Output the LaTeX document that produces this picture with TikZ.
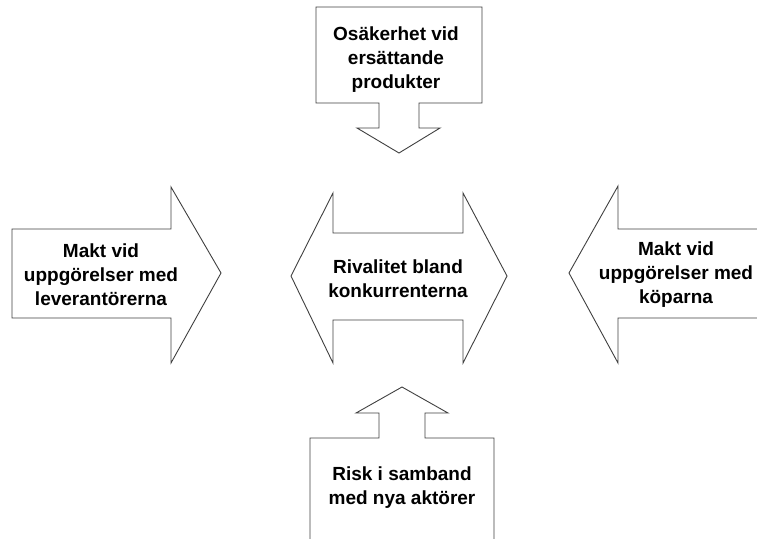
\documentclass[tikz,border=0pt]{standalone}
\usepackage{fontspec}
\setmainfont{Liberation Sans}
\begin{document}
\begin{tikzpicture}[x=1pt,y=-1pt,
  shapeline/.style={draw=black!75,line width=0.9pt,fill=white,line join=miter},
  lbl/.style={align=center,font=\fontsize{19}{24}\selectfont\bfseries,text=black,inner sep=0pt}]
\useasboundingbox (0,0) rectangle (757,538);
% top: box with down arrow
\draw[shapeline] (316,7) -- (482,7) -- (482,103) -- (419,103) -- (419,128) -- (440,128)
  -- (399,153) -- (357,128) -- (379,128) -- (379,103) -- (316,103) -- cycle;
% left: right arrow
\draw[shapeline] (12,229) -- (171,229) -- (171,187) -- (221,273) -- (171,363) -- (171,318) -- (12,318) -- cycle;
% center: double arrow
\draw[shapeline] (291,276) -- (333,193) -- (333,233) -- (463,233) -- (463,193) -- (507,276)
  -- (463,363) -- (463,320) -- (333,320) -- (333,363) -- cycle;
% right: left arrow
\draw[shapeline] (760,229) -- (618,229) -- (618,186) -- (569,273) -- (618,363) -- (618,318) -- (760,318);
% bottom: box with up arrow
\draw[shapeline] (310,542) -- (310,438) -- (379,438) -- (379,413) -- (356,413) -- (402,387)
  -- (448,413) -- (425,413) -- (425,438) -- (494,438) -- (494,542);
% labels
\node[lbl] (top) at (396,60) {Osäkerhet vid\\ersättande\\produkter};
\node[lbl] (left) at (101,275) {Makt vid\\uppgörelser med\\leverantörerna};
\node[lbl] (center) at (398,279) {Rivalitet bland\\konkurrenterna};
\node[lbl] (right) at (676,275) {Makt vid\\uppgörelser med\\köparna};
\node[lbl] (bottom) at (402,488) {Risk i samband\\med nya aktörer};
\end{tikzpicture}
\end{document}
